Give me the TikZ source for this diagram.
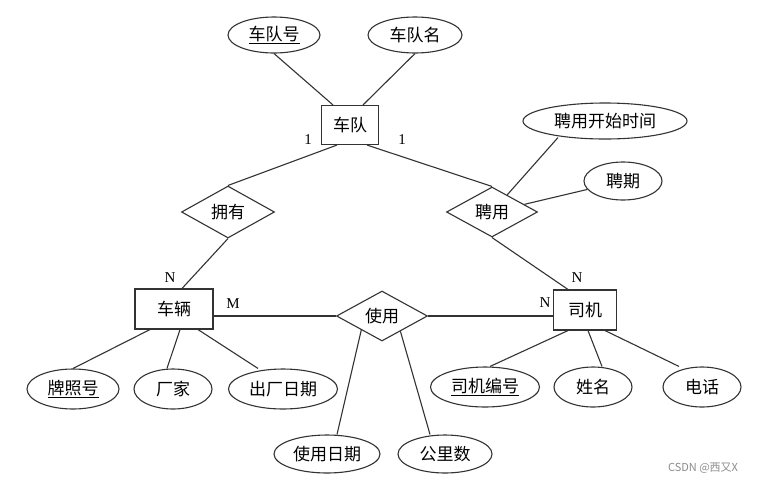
\documentclass[tikz,border=0pt]{standalone}
\usepackage{fontspec}
\newfontfamily\cjk{Noto Sans CJK SC}
\newfontfamily\lbl{Liberation Serif}
\usetikzlibrary{shapes.geometric,calc}
\tikzset{
  ln/.style={draw=black!80, line width=1.1pt},
  ent/.style={ln, rectangle, inner sep=0pt, font=\cjk\fontsize{17}{17}\selectfont},
  rel/.style={ln, diamond, inner sep=0pt, aspect=1.8, font=\cjk\fontsize{17}{17}\selectfont},
  att/.style={ln, ellipse, inner sep=0pt, minimum height=38pt, font=\cjk\fontsize{17}{17}\selectfont},
  card/.style={font=\lbl\fontsize{15}{15}\selectfont, inner sep=0pt},
  conn/.style={draw=black!80, line width=1.1pt}
}
\begin{document}
\begin{tikzpicture}[x=1pt,y=-1pt]
\useasboundingbox[fill=white] (0,0) rectangle (760,483);
% entities
\node[ent, minimum width=57pt, minimum height=39pt] (cd) at (350,125) {车队};
\node[ent, minimum width=78pt, minimum height=40pt] (cl) at (174,309) {车辆};
\node[ent, minimum width=63pt, minimum height=40pt] (sj) at (585,310) {司机};
% relations
\node[rel, minimum width=93pt, minimum height=52pt] (yy) at (228,212) {拥有};
\node[rel, minimum width=91pt, minimum height=50pt] (py) at (492,212) {聘用};
\node[rel, minimum width=91pt, minimum height=50pt] (sy) at (382,316) {使用};
% attributes
\node[att, minimum width=92pt, minimum height=36pt] (dh) at (274,35) {\underline{车队号}};
\node[att, minimum width=94pt, minimum height=36pt] (dm) at (415,35) {车队名};
\node[att, minimum width=164pt, minimum height=36pt] (pkt) at (605,121) {聘用开始时间};
\node[att, minimum width=78pt] (pq) at (623,181) {聘期};
\node[att, minimum width=92pt, minimum height=40pt] (pzh) at (73,389) {\underline{牌照号}};
\node[att, minimum width=78pt, minimum height=40pt] (cj) at (173,389) {厂家};
\node[att, minimum width=109pt, minimum height=40pt] (ccrq) at (283,389) {出厂日期};
\node[att, minimum width=106pt] (syrq) at (327,454) {使用日期};
\node[att, minimum width=94pt] (gls) at (445,454) {公里数};
\node[att, minimum width=109pt, minimum height=40pt] (sjbh) at (485,387) {\underline{司机编号}};
\node[att, minimum width=78pt, minimum height=40pt] (xm) at (593,387) {姓名};
\node[att, minimum width=78pt, minimum height=40pt] (dhua) at (702,387) {电话};
% cardinalities
\node[card] (c1) at (308,140) {1};
\node[card] (c2) at (402,140) {1};
\node[card] (c3) at (170,278) {N};
\node[card] (c4) at (233,304) {M};
\node[card] (c5) at (577,278) {N};
\node[card] (c6) at (545,303) {N};
% connectors
\draw[conn] (dh.south) -- ($(cd.north)+(-17,0)$);
\draw[conn] (dm.south) -- ($(cd.north)+(13,0)$);
\draw[conn] ($(cd.south)+(-13,0)$) -- (yy.north);
\draw[conn] ($(cd.south)+(17,0)$) -- (py.north);
\draw[conn] (yy.south) -- ($(cl.north)+(8,0)$);
\draw[conn] (py.south) -- ($(sj.north)+(-17,0)$);
\draw[conn] ($(pkt.south)+(-47,-2)$) -- ($(py.north)!0.33!(py.east)$);
\draw[conn] (pq) -- (py);
\draw[conn] (sy.west) -- (sy.west -| cl.east);
\draw[conn] (sy.east) -- (sy.east -| sj.west);
\draw[conn] ($(syrq.north)+(10,0)$) -- ($(sy.south)!0.45!(sy.west)$);
\draw[conn] ($(gls.north)+(-15,0)$) -- ($(sy.south)!0.4!(sy.east)$);
\draw[conn] (pzh.north) -- ($(cl.south)+(-24,0)$);
\draw[conn] ($(cj.north)+(-6,0)$) -- ($(cl.south)+(6,0)$);
\draw[conn] ($(ccrq.north)+(-25,0)$) -- ($(cl.south)+(24,0)$);
\draw[conn] ($(sjbh.north)+(5,0)$) -- ($(sj.south)+(-17,0)$);
\draw[conn] ($(xm.north)+(9,0)$) -- ($(sj.south)+(3,0)$);
\draw[conn] ($(dhua.north)+(-23,0)$) -- ($(sj.south)+(20,0)$);
% watermark
\node[font=\cjk\fontsize{11}{11}\selectfont, text=black!45, inner sep=0pt] (wm) at (703,468) {CSDN @西又X};
\end{tikzpicture}
\end{document}
